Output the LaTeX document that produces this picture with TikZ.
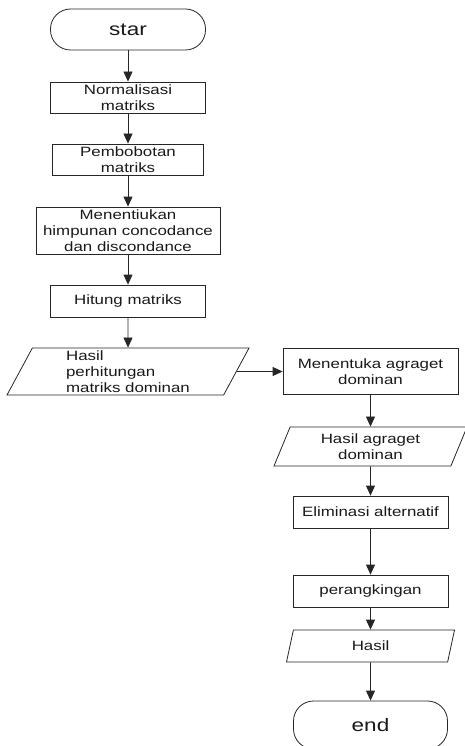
\documentclass[tikz,border=0pt]{standalone}
\usepackage{fontspec}
\newfontfamily\boxfont[FakeStretch=1.25]{Liberation Sans}
\usepackage{tikz}
\usetikzlibrary{shapes.geometric, arrows.meta}

\tikzset{
    proc/.style={draw=black!85, line width=0.8pt, rectangle, align=center, inner sep=1pt,
        minimum width=155, minimum height=32, text=black!90,
        font=\boxfont\fontsize{13.5}{16}\selectfont},
    term/.style={proc, rounded corners=20pt, minimum height=41,
        font=\boxfont\fontsize{18}{20}\selectfont},
    data/.style={proc, trapezium, trapezium left angle=60, trapezium right angle=120,
        trapezium stretches body=true},
    flow/.style={draw=black!85, line width=0.8pt, -{Triangle[length=10pt,width=9pt]}}
}

\begin{document}
\begin{tikzpicture}[x=1pt, y=-1pt]
        \useasboundingbox (0,0) rectangle (465,746);
        \clip (0,0) rectangle (465,746);

        % left column
        \node[term] (star) at (128, 29.5) {star};
        \node[proc, minimum height=31] (normal) at (128, 97.5) {Normalisasi\\matriks};
        \node[proc, minimum width=151, minimum height=31] (bobot) at (128, 159.5) {Pembobotan\\matriks};
        \node[proc, minimum width=184, minimum height=47] (tentu) at (128, 230.5) {Menentiukan\\himpunan concodance\\dan discondance};
        \node[proc] (hitung) at (128, 301) {Hitung matriks};
        \node[data, align=left, minimum width=242, minimum height=47] (hasildom) at (128, 371.5) {Hasil\\perhitungan\\matriks dominan};

        % right column
        \node[proc, minimum width=175, minimum height=46] (agraget) at (370.5, 371.5) {Menentuka agraget\\dominan};
        \node[data, minimum width=193, minimum height=39] (hasilagr) at (370.5, 446.5) {Hasil agraget\\dominan};
        \node[proc] (elim) at (370.5, 512) {Eliminasi alternatif};
        \node[proc] (rank) at (370.5, 591) {perangkingan};
        \node[data, minimum width=168, minimum height=32] (hasil) at (370.5, 646) {Hasil};
        \node[term, minimum width=154, minimum height=48] (end) at (370.5, 725) {end};

        \draw[flow] (star) -- (normal);
        \draw[flow] (normal) -- (bobot);
        \draw[flow] (bobot) -- (tentu);
        \draw[flow] (tentu) -- (hitung);
        \draw[flow] (hitung) -- (hasildom);
        \draw[flow] (hasildom) -- (agraget);
        \draw[flow] (agraget) -- (hasilagr);
        \draw[flow] (hasilagr) -- (elim);
        \draw[flow] (elim) -- (rank);
        \draw[flow] (rank) -- (hasil);
        \draw[flow] (hasil) -- (end);
    \end{tikzpicture}
\end{document}
